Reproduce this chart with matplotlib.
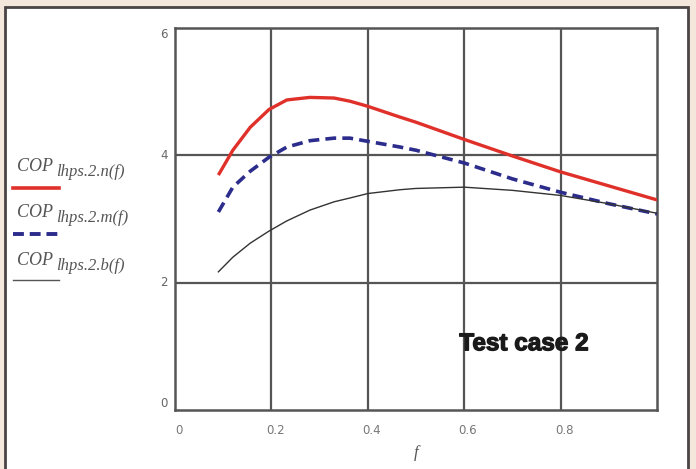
import numpy as np
import matplotlib.pyplot as plt
import matplotlib.patheffects as pe
from matplotlib.patches import Rectangle

# values
f_vals = [0.09, 0.12, 0.156, 0.195, 0.232, 0.28, 0.33, 0.363, 0.4, 0.467, 0.5, 0.6, 0.7, 0.8, 0.9, 1.0]
cop_n = [3.69, 4.08, 4.44, 4.72, 4.87, 4.91, 4.90, 4.85, 4.77, 4.60, 4.52, 4.25, 3.99, 3.74, 3.52, 3.30]
cop_m = [3.11, 3.50, 3.75, 3.97, 4.13, 4.23, 4.27, 4.27, 4.22, 4.13, 4.08, 3.88, 3.63, 3.42, 3.24, 3.08]
cop_b = [2.17, 2.40, 2.62, 2.81, 2.97, 3.14, 3.27, 3.33, 3.40, 3.46, 3.48, 3.50, 3.45, 3.37, 3.24, 3.09]

x_ticks = [0, 0.2, 0.4, 0.6, 0.8]
y_ticks = [0, 2, 4, 6]
subs = ['lhps.2.n(f)', 'lhps.2.m(f)', 'lhps.2.b(f)']

fig = plt.figure(figsize=(6.96, 4.69), dpi=100)
fig.patch.set_facecolor('#f4e8dc')

# white inner panel with dark border
fig.patches.append(Rectangle((5/696, -0.02), 683/696, (469-7)/469 + 0.02,
                             transform=fig.transFigure, facecolor='white',
                             edgecolor='#4a4444', linewidth=2, zorder=-5))

ax = fig.add_axes([175/696, 59/469, 482/696, 382/469])
ax.set_facecolor('white')
ax.set_xlim(0, 1)
ax.set_ylim(0, 6)

ax.plot(f_vals, cop_n, color='#e0302a', lw=2.4, solid_capstyle='butt', zorder=3)
ax.plot(f_vals, cop_m, color='#2c2c8c', lw=2.6, ls=(0, (3, 1.7)), zorder=3)
ax.plot(f_vals, cop_b, color='#333333', lw=1.0, zorder=3)

ax.set_xticks([0.2, 0.4, 0.6, 0.8])
ax.set_yticks([2, 4])
ax.grid(True, color='#555555', lw=1.6)
ax.tick_params(length=0, labelbottom=False, labelleft=False)
for s in ax.spines.values():
    s.set_color('#555555')
    s.set_linewidth(1.8)

# tick labels drawn as text to mimic original placement
for xv in x_ticks:
    ax.text(xv + 0.008, -0.22, f'{xv:g}', ha='center', va='top', fontsize=8.5, color='#777777')
for yv in y_ticks:
    va = 'center' if yv not in (0, 6) else ('bottom' if yv == 0 else 'top')
    ax.text(-0.015, yv, f'{yv:g}', ha='right', va=va, fontsize=8.5, color='#666666')

ax.text(0.5, -0.55, 'f', ha='center', va='top', fontsize=12, style='italic',
        family='Liberation Serif', color='#555555')

ax.text(0.724, 1.04, 'Test case 2', ha='center', va='center', fontsize=17.5,
        fontweight='bold', family='Liberation Sans', color='#1a1a1a', zorder=4,
        path_effects=[pe.withStroke(linewidth=0.9, foreground='#1a1a1a')])

# left legend
cop_base = [171, 217, 265]
sample_y = [188, 234, 280]
styles = [dict(color='#e0302a', lw=2.6), dict(color='#2c2c8c', lw=2.8, ls=(0, (2.8, 1.5))),
          dict(color='#555555', lw=1.0)]
for sub, by, sy, st in zip(subs, cop_base, sample_y, styles):
    fig.text(17/696, 1 - by/469, 'COP', ha='left', va='baseline', fontsize=13,
             style='italic', family='Liberation Serif', color='#555555')
    fig.text(56/696, 1 - (by + 5)/469, sub, ha='left', va='baseline', fontsize=12,
             style='italic', family='Liberation Serif', color='#555555')
    fig.add_artist(plt.Line2D([13/696, 59/696], [1 - sy/469, 1 - sy/469],
                              transform=fig.transFigure, **st))

fig.savefig('out.png', dpi=100, facecolor=fig.get_facecolor())
